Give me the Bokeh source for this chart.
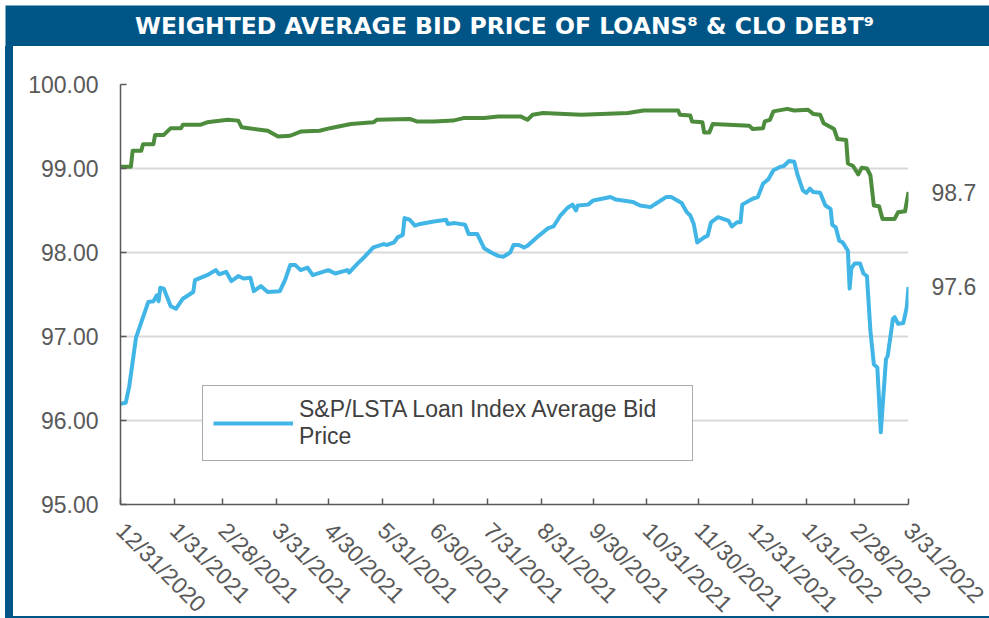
import pandas as pd
from bokeh.plotting import figure
from bokeh.layouts import column, row
from bokeh.models import (ColumnDataSource, FixedTicker, NumeralTickFormatter, Legend,
                          LegendItem, Label, Range1d, LinearAxis, Div, CustomLabelingPolicy)
from bokeh.embed import file_html
from bokeh.resources import INLINE

title_text = "WEIGHTED AVERAGE BID PRICE OF LOANS\u2078 & CLO DEBT\u2079"
loan_name = "S&P/LSTA Loan Index Average Bid\nPrice"

tick_labels = ["12/31/2020", "1/31/2021", "2/28/2021", "3/31/2021", "4/30/2021", "5/31/2021",
               "6/30/2021", "7/31/2021", "8/31/2021", "9/30/2021", "10/31/2021", "11/30/2021",
               "12/31/2021", "1/31/2022", "2/28/2022", "3/31/2022"]
y_ticks = [95, 96, 97, 98, 99, 100]

clo_dates = ["2020-12-31", "2021-01-06", "2021-01-07", "2021-01-12", "2021-01-13", "2021-01-19",
             "2021-01-20", "2021-01-25", "2021-01-29", "2021-02-04", "2021-02-05", "2021-02-15",
             "2021-02-19", "2021-03-03", "2021-03-09", "2021-03-11", "2021-03-26", "2021-04-01",
             "2021-04-08", "2021-04-14", "2021-04-25", "2021-05-01", "2021-05-13", "2021-05-26",
             "2021-05-28", "2021-06-16", "2021-06-20", "2021-06-30", "2021-07-11", "2021-07-17",
             "2021-07-29", "2021-08-06", "2021-08-19", "2021-08-23", "2021-08-26", "2021-09-01",
             "2021-09-23", "2021-10-20", "2021-10-29", "2021-11-18", "2021-11-19", "2021-11-25",
             "2021-11-26", "2021-12-02", "2021-12-03", "2021-12-06", "2021-12-08", "2021-12-29",
             "2021-12-31", "2022-01-06", "2022-01-07", "2022-01-10", "2022-01-12", "2022-01-20",
             "2022-01-24", "2022-02-01", "2022-02-04", "2022-02-08", "2022-02-10", "2022-02-16",
             "2022-02-18", "2022-02-23", "2022-02-24", "2022-02-27", "2022-03-02", "2022-03-04",
             "2022-03-07", "2022-03-09", "2022-03-11", "2022-03-14", "2022-03-16", "2022-03-23",
             "2022-03-25", "2022-03-29", "2022-03-31"]
clo_values = [99.02, 99.02, 99.21, 99.21, 99.29, 99.29,
              99.40, 99.40, 99.48, 99.48, 99.52, 99.52,
              99.55, 99.58, 99.57, 99.49, 99.45, 99.38,
              99.39, 99.44, 99.45, 99.48, 99.53, 99.55,
              99.58, 99.59, 99.56, 99.56, 99.57, 99.60,
              99.60, 99.62, 99.62, 99.58, 99.64, 99.66,
              99.64, 99.66, 99.69, 99.69, 99.64, 99.63,
              99.56, 99.55, 99.43, 99.43, 99.53, 99.51,
              99.47, 99.48, 99.56, 99.58, 99.68, 99.71,
              99.69, 99.70, 99.65, 99.64, 99.54, 99.47,
              99.35, 99.34, 99.06, 99.03, 98.93, 99.01,
              99.00, 98.92, 98.56, 98.55, 98.40, 98.40,
              98.48, 98.49, 98.72]

loan_dates = ["2020-12-31", "2021-01-03", "2021-01-05", "2021-01-09", "2021-01-10", "2021-01-16",
              "2021-01-19", "2021-01-21", "2021-01-22", "2021-01-23", "2021-01-25", "2021-01-29",
              "2021-02-01", "2021-02-05", "2021-02-11", "2021-02-12", "2021-02-19", "2021-02-24",
              "2021-02-26", "2021-03-02", "2021-03-05", "2021-03-09", "2021-03-12", "2021-03-16",
              "2021-03-18", "2021-03-22", "2021-03-26", "2021-04-02", "2021-04-05", "2021-04-08",
              "2021-04-11", "2021-04-14", "2021-04-18", "2021-04-21", "2021-04-30", "2021-05-04",
              "2021-05-11", "2021-05-12", "2021-05-17", "2021-05-21", "2021-05-26", "2021-06-01",
              "2021-06-03", "2021-06-07", "2021-06-09", "2021-06-12", "2021-06-13", "2021-06-16",
              "2021-06-19", "2021-06-22", "2021-06-30", "2021-07-07", "2021-07-08", "2021-07-12",
              "2021-07-18", "2021-07-20", "2021-07-25", "2021-07-29", "2021-08-02", "2021-08-06",
              "2021-08-09", "2021-08-13", "2021-08-15", "2021-08-18", "2021-08-21", "2021-08-23",
              "2021-08-29", "2021-09-04", "2021-09-07", "2021-09-11", "2021-09-15", "2021-09-18",
              "2021-09-20", "2021-09-21", "2021-09-27", "2021-09-30", "2021-10-10", "2021-10-13",
              "2021-10-23", "2021-10-27", "2021-11-02", "2021-11-05", "2021-11-11", "2021-11-14",
              "2021-11-20", "2021-11-23", "2021-11-25", "2021-11-27", "2021-11-29", "2021-12-03",
              "2021-12-05", "2021-12-07", "2021-12-11", "2021-12-17", "2021-12-19", "2021-12-22",
              "2021-12-24", "2021-12-25", "2021-12-31", "2022-01-03", "2022-01-06", "2022-01-09",
              "2022-01-12", "2022-01-16", "2022-01-18", "2022-01-21", "2022-01-24", "2022-01-26",
              "2022-01-29", "2022-01-31", "2022-02-02", "2022-02-04", "2022-02-08", "2022-02-11",
              "2022-02-14", "2022-02-15", "2022-02-17", "2022-02-19", "2022-02-21", "2022-02-24",
              "2022-02-25", "2022-02-26", "2022-02-28", "2022-03-03", "2022-03-05", "2022-03-07",
              "2022-03-09", "2022-03-11", "2022-03-13", "2022-03-15", "2022-03-18", "2022-03-19",
              "2022-03-22", "2022-03-23", "2022-03-25", "2022-03-28", "2022-03-30", "2022-03-31"]
loan_values = [96.20, 96.21, 96.40, 96.99, 97.05, 97.41,
               97.42, 97.49, 97.42, 97.58, 97.57, 97.36,
               97.33, 97.45, 97.53, 97.67, 97.73, 97.79,
               97.74, 97.77, 97.66, 97.72, 97.69, 97.70,
               97.54, 97.60, 97.53, 97.54, 97.67, 97.85,
               97.85, 97.79, 97.82, 97.73, 97.79, 97.75,
               97.79, 97.76, 97.87, 97.95, 98.06, 98.10,
               98.09, 98.12, 98.18, 98.21, 98.41, 98.39,
               98.32, 98.34, 98.37, 98.39, 98.34, 98.35,
               98.33, 98.22, 98.22, 98.05, 98.00, 97.96,
               97.95, 98.00, 98.09, 98.09, 98.06, 98.08,
               98.19, 98.29, 98.31, 98.44, 98.53, 98.57,
               98.50, 98.56, 98.57, 98.62, 98.66, 98.63,
               98.60, 98.56, 98.54, 98.58, 98.66, 98.66,
               98.59, 98.48, 98.44, 98.34, 98.12, 98.18,
               98.20, 98.36, 98.42, 98.38, 98.31, 98.36,
               98.36, 98.57, 98.64, 98.66, 98.82, 98.87,
               98.98, 99.02, 99.03, 99.09, 99.08, 98.92,
               98.74, 98.71, 98.76, 98.72, 98.71, 98.56,
               98.52, 98.33, 98.30, 98.14, 98.12, 98.02,
               97.57, 97.81, 97.87, 97.87, 97.75, 97.72,
               97.07, 96.67, 96.63, 95.86, 96.73, 96.77,
               97.21, 97.23, 97.15, 97.16, 97.35, 97.59]

FONT = "Liberation Sans"
GREY = "#595959"
NAVY = "#005587"
GREEN = "#4D8C3C"
SKY = "#41B6E6"

# title bar
title_fig = figure(width=989, height=46, output_backend="svg", toolbar_location=None,
                   x_range=Range1d(0, 1), y_range=Range1d(0, 1),
                   x_axis_location=None, y_axis_location=None,
                   min_border_left=5, min_border_top=5, min_border_right=0, min_border_bottom=0)
title_fig.grid.visible = False
title_fig.outline_line_color = None
title_fig.background_fill_color = NAVY
title_fig.border_fill_color = "white"
title_fig.add_layout(Label(x=0.5, y=0.5, x_offset=7, text=title_text, text_align="center",
                           text_baseline="middle", text_font="DejaVu Sans",
                           text_font_style="bold", text_font_size="23.5px", text_color="white"))

# left and bottom strips of the navy frame
strip = Div(width=8, height=570, margin=(0, 0, 0, 5), styles={"background-color": NAVY})
bottom = Div(width=984, height=2, margin=(0, 0, 0, 5), styles={"background-color": NAVY})

clo_src = ColumnDataSource(dict(date=pd.to_datetime(clo_dates), value=clo_values))
loan_src = ColumnDataSource(dict(date=pd.to_datetime(loan_dates), value=loan_values))

tick_ts = pd.to_datetime(tick_labels, format="%m/%d/%Y")
tick_ms = [int(t.timestamp() * 1000) for t in tick_ts]
x_range = Range1d(tick_ms[0], tick_ms[-1])

BOTTOM_PAD = 14

# main chart: frame, grid, lines, axis line with inward ticks (date labels drawn below)
p = figure(width=976, height=458 + BOTTOM_PAD, x_axis_type="datetime", output_backend="svg",
           toolbar_location=None, x_range=x_range, y_range=Range1d(y_ticks[0], y_ticks[-1]),
           min_border_left=107, min_border_right=81, min_border_top=38,
           min_border_bottom=BOTTOM_PAD)
p.outline_line_color = None
p.background_fill_color = "white"
p.border_fill_color = "white"

p.xgrid.grid_line_color = None
p.ygrid.grid_line_color = "#D9D9D9"
p.ygrid.grid_line_width = 2

p.yaxis.ticker = FixedTicker(ticks=y_ticks)
p.yaxis.formatter = NumeralTickFormatter(format="0.00")
p.xaxis.ticker = FixedTicker(ticks=tick_ms)

for ax in (p.xaxis[0], p.yaxis[0]):
    ax.axis_line_color = GREY
    ax.axis_line_width = 1.5
    ax.major_tick_line_color = GREY
    ax.major_tick_line_width = 1.5
    ax.major_tick_in = 6
    ax.major_tick_out = 0
    ax.minor_tick_line_color = None
    ax.major_label_text_font = FONT
    ax.major_label_text_font_size = "23px"
    ax.major_label_text_color = GREY
p.yaxis.major_label_standoff = 22
p.xaxis.major_label_standoff = 0
p.xaxis.major_label_text_font_size = "1px"
p.xaxis.major_label_policy = CustomLabelingPolicy(code="""
for (const i of Array.from(indices)) {
  if (typeof indices.unset === "function") { indices.unset(i) } else { indices.set(i, false) }
}
return indices
""")

p.line("date", "value", source=clo_src, line_color=GREEN, line_width=4, line_join="round")
r_loan = p.line("date", "value", source=loan_src, line_color=SKY, line_width=4, line_join="round")

# end-value labels as a bare right axis ticked at the last values
end_axis = LinearAxis(ticker=FixedTicker(ticks=[clo_values[-1], loan_values[-1]]),
                      formatter=NumeralTickFormatter(format="0.0"),
                      axis_line_color=None, major_tick_line_color=None,
                      minor_tick_line_color=None, major_label_standoff=17,
                      major_label_text_font=FONT, major_label_text_font_size="23px",
                      major_label_text_color=GREY)
p.add_layout(end_axis, "right")

legend = Legend(items=[LegendItem(label=loan_name, renderers=[r_loan])], location=(82, 43),
                border_line_color=GREY, border_line_width=1.5, background_fill_alpha=1,
                padding=10, glyph_width=80, glyph_height=24, label_standoff=6, label_width=383,
                label_text_font=FONT, label_text_font_size="23px", label_text_color="#404040",
                label_text_line_height=1.2, margin=0)
p.add_layout(legend)

# rotated date labels, on the shared x range directly under the main chart
xlab = figure(width=976, height=112 - BOTTOM_PAD, x_axis_type="datetime", output_backend="svg",
              toolbar_location=None, x_range=x_range, y_range=Range1d(0, 1),
              y_axis_location=None,
              min_border_left=107, min_border_right=81, min_border_top=0, min_border_bottom=0)
xlab.grid.visible = False
xlab.outline_line_color = None
xax = xlab.xaxis[0]
xax.ticker = FixedTicker(ticks=tick_ms)
xax.major_label_overrides = {ms: lab for ms, lab in zip(tick_ms, tick_labels)}
xax.major_label_orientation = -0.785
xax.axis_line_color = None
xax.major_tick_line_color = None
xax.minor_tick_line_color = None
xax.major_tick_in = 0
xax.major_tick_out = 0
xax.major_label_standoff = 8
xax.major_label_text_font = FONT
xax.major_label_text_font_size = "23px"
xax.major_label_text_color = GREY

layout = column(title_fig, row(strip, column(p, xlab, spacing=0), spacing=0), bottom,
                spacing=0)

open("out.html", "w").write(file_html(layout, INLINE))
